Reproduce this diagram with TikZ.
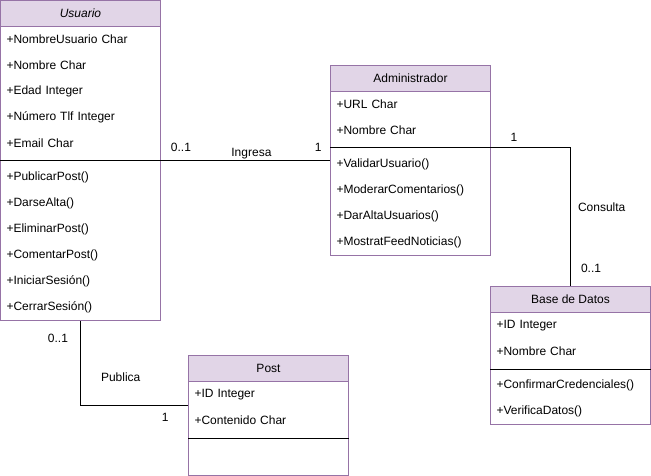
\documentclass[tikz,border=0pt]{standalone}
\usepackage{fontspec}
\setmainfont{Liberation Sans}
\usetikzlibrary{positioning}
\definecolor{umlborder}{HTML}{9673A6}
\definecolor{umlfill}{HTML}{E1D5E7}
\tikzstyle{classbox}=
[
	rectangle
	, minimum width=160pt
	, inner sep=0pt
	, draw=umlborder
]
\tikzstyle{classhead}=
[
	rectangle
	, minimum width=160pt
	, minimum height=26pt
	, draw=umlborder
	, fill=umlfill
	, font=\fontsize{12}{14}\selectfont
]
\tikzstyle{member}=
[
	rectangle
	, text width=148pt
	, inner xsep=6pt
	, inner ysep=0pt
	, minimum height=26pt
	, align=left
	, font=\fontsize{12}{14}\selectfont
]
\tikzstyle{assoc} = [line width=1pt,-]
\tikzstyle{sepline} = [line width=1pt,-,black]
\tikzstyle{lbl} = [inner sep=0pt, font=\fontsize{12}{14}\selectfont]

\begin{document}
\begin{tikzpicture}[x=1pt, y=-1pt, node distance=26pt, line width=1pt]
\useasboundingbox (-0.5,-0.5) rectangle (650.5,475.5);

% Usuario
\node(usuario)[classbox, minimum height=320pt] at (80,160) {};
\node(usuarioH)[classhead, anchor=north] at (usuario.north) {\itshape Usuario};
\node(u1)[member, below of=usuarioH]{+NombreUsuario Char};
\node(u2)[member, below of=u1]{+Nombre Char};
\node(u3)[member, below of=u2]{+Edad Integer};
\node(u4)[member, below of=u3]{+Número Tlf Integer};
\node(u5)[member, below of=u4]{+Email Char};
\coordinate(usep) at ([yshift=-4pt]u5.south);
\draw[sepline](usuario.west |- usep)--(usuario.east |- usep);
\node(u6)[member, below of=u5, node distance=34pt]{+PublicarPost()};
\node(u7)[member, below of=u6]{+DarseAlta()};
\node(u8)[member, below of=u7]{+EliminarPost()};
\node(u9)[member, below of=u8]{+ComentarPost()};
\node(u10)[member, below of=u9]{+IniciarSesión()};
\node(u11)[member, below of=u10]{+CerrarSesión()};

% Administrador
\node(admin)[classbox, minimum height=190pt] at (410,160) {};
\node(adminH)[classhead, anchor=north] at (admin.north) {Administrador};
\node(a1)[member, below of=adminH]{+URL Char};
\node(a2)[member, below of=a1]{+Nombre Char};
\coordinate(asep) at ([yshift=-4pt]a2.south);
\draw[sepline](admin.west |- asep)--(admin.east |- asep);
\node(a3)[member, below of=a2, node distance=34pt]{+ValidarUsuario()};
\node(a4)[member, below of=a3]{+ModerarComentarios()};
\node(a5)[member, below of=a4]{+DarAltaUsuarios()};
\node(a6)[member, below of=a5]{+MostratFeedNoticias()};

% Base de Datos
\node(base)[classbox, minimum height=138pt] at (570,355) {};
\node(baseH)[classhead, anchor=north] at (base.north) {Base de Datos};
\node(b1)[member, below of=baseH]{+ID Integer};
\node(b2)[member, below of=b1]{+Nombre Char};
\coordinate(bsep) at ([yshift=-4pt]b2.south);
\draw[sepline](base.west |- bsep)--(base.east |- bsep);
\node(b3)[member, below of=b2, node distance=34pt]{+ConfirmarCredenciales()};
\node(b4)[member, below of=b3]{+VerificaDatos()};

% Post
\node(post)[classbox, minimum height=120pt] at (268,415) {};
\node(postH)[classhead, anchor=north] at (post.north) {Post};
\node(p1)[member, below of=postH]{+ID Integer};
\node(p2)[member, below of=p1]{+Contenido Char};
\coordinate(psep) at ([yshift=-4pt]p2.south);
\draw[sepline](post.west |- psep)--(post.east |- psep);

% associations
\draw[assoc](usuario.east)--node[lbl, pos=0.118, above=8.5pt]{0..1}
	node[lbl, pos=0.535, above=1.5pt]{Ingresa}
	node[lbl, pos=0.93, above=8.5pt]{1}(admin.west);
\draw[assoc](asep -| admin.east)-|node[lbl, pos=0.144, above=5.7pt]{1}
	node[lbl, pos=0.716, right=7pt]{Consulta}
	node[lbl, pos=0.935, right=10pt]{0..1}(base.north);
\draw[assoc](usuario.south)|-node[lbl, pos=0.1, left=12pt]{0..1}
	node[lbl, pos=0.335, right=20pt]{Publica}
	node[lbl, pos=0.894, below=7.7pt]{1}([yshift=10pt]post.west);

\end{tikzpicture}
\end{document}
